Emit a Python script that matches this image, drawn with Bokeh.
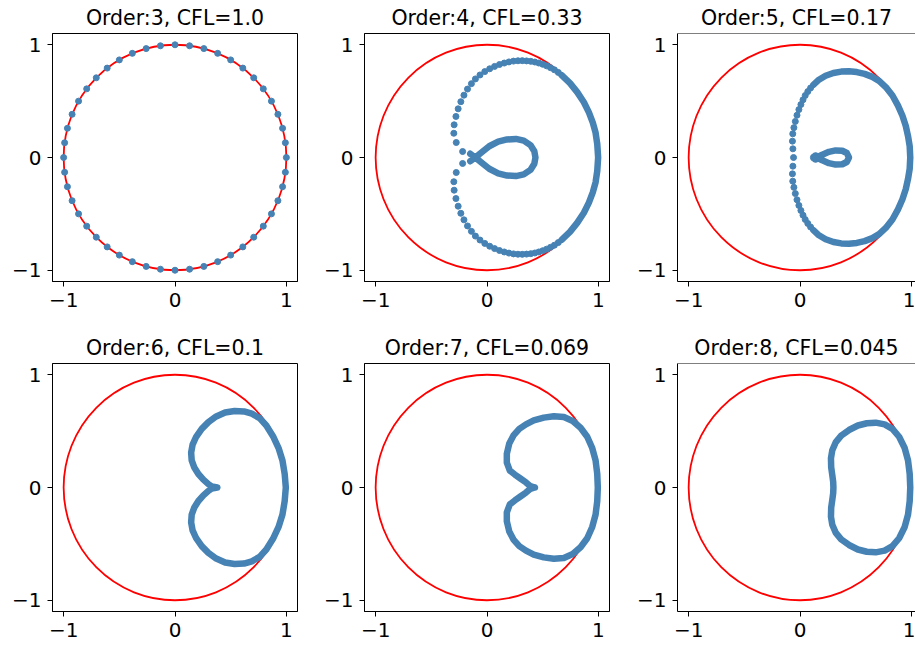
from bokeh.plotting import figure
from bokeh.layouts import column, row
from bokeh.models import Range1d, FixedTicker, Span
from bokeh.embed import file_html
from bokeh.resources import INLINE

# ---- panel titles -------------------------------------------------------
titles = [
    "Order:3, CFL=1.0", "Order:4, CFL=0.33", "Order:5, CFL=0.17",
    "Order:6, CFL=0.1", "Order:7, CFL=0.069", "Order:8, CFL=0.045",
]
tick_values = [-1, 0, 1]
tick_labels = ["\u22121", "0", "1"]

# ---- amplification factors (real, imaginary) ---------------------------
order3_x = [1.000, 0.991, 0.966, 0.924, 0.866, 0.793, 0.707, 0.609, 0.500, 0.383, 0.259, 0.131,
            0.000, -0.131, -0.259, -0.383, -0.500, -0.609, -0.707, -0.793, -0.866, -0.924, -0.966, -0.991,
            -1.000, -0.991, -0.966, -0.924, -0.866, -0.793, -0.707, -0.609, -0.500, -0.383, -0.259, -0.131,
            0.000, 0.131, 0.259, 0.383, 0.500, 0.609, 0.707, 0.793, 0.866, 0.924, 0.966, 0.991]
order3_y = [0.000, 0.131, 0.259, 0.383, 0.500, 0.609, 0.707, 0.793, 0.866, 0.924, 0.966, 0.991,
            1.000, 0.991, 0.966, 0.924, 0.866, 0.793, 0.707, 0.609, 0.500, 0.383, 0.259, 0.131,
            0.000, -0.131, -0.259, -0.383, -0.500, -0.609, -0.707, -0.793, -0.866, -0.924, -0.966, -0.991,
            -1.000, -0.991, -0.966, -0.924, -0.866, -0.793, -0.707, -0.609, -0.500, -0.383, -0.259, -0.131]

order4_dots_x = [0.640, 0.605, 0.570, 0.535, 0.500, 0.465, 0.430, 0.393, 0.355, 0.317,
                 0.278, 0.238, 0.197, 0.155, 0.112, 0.068, 0.024, -0.020, -0.063, -0.104,
                 -0.140, -0.175, -0.207, -0.235, -0.259, -0.279, -0.295, -0.298, -0.276, -0.219,
                 0.640, 0.605, 0.570, 0.535, 0.500, 0.465, 0.430, 0.393, 0.355, 0.317,
                 0.278, 0.238, 0.197, 0.155, 0.112, 0.068, 0.024, -0.020, -0.063, -0.104,
                 -0.140, -0.175, -0.207, -0.235, -0.259, -0.279, -0.295, -0.298, -0.276, -0.219]
order4_dots_y = [0.755, 0.778, 0.797, 0.813, 0.827, 0.838, 0.847, 0.853, 0.857, 0.859,
                 0.858, 0.855, 0.848, 0.838, 0.825, 0.808, 0.787, 0.762, 0.732, 0.697,
                 0.655, 0.607, 0.553, 0.495, 0.432, 0.364, 0.290, 0.215, 0.133, 0.053,
                 -0.755, -0.778, -0.797, -0.813, -0.827, -0.838, -0.847, -0.853, -0.857, -0.859,
                 -0.858, -0.855, -0.848, -0.838, -0.825, -0.808, -0.787, -0.762, -0.732, -0.697,
                 -0.655, -0.607, -0.553, -0.495, -0.432, -0.364, -0.290, -0.215, -0.133, -0.053]
order4_arc_x = [0.670, 0.745, 0.810, 0.870, 0.915, 0.950, 0.975, 0.990, 0.998,
                0.990, 0.975, 0.950, 0.915, 0.870, 0.810, 0.745, 0.670]
order4_arc_y = [0.730, 0.660, 0.580, 0.490, 0.400, 0.310, 0.220, 0.120, 0.000,
                -0.120, -0.220, -0.310, -0.400, -0.490, -0.580, -0.660, -0.730]
order4_loop_x = [-0.150, -0.105, -0.050, 0.020, 0.100, 0.180, 0.260, 0.330, 0.390, 0.425, 0.435,
                 0.425, 0.390, 0.330, 0.260, 0.180, 0.100, 0.020, -0.050, -0.105, -0.150]
order4_loop_y = [0.033, 0.000, -0.045, -0.100, -0.140, -0.160, -0.165, -0.150, -0.110, -0.055, 0.000,
                 0.055, 0.110, 0.150, 0.165, 0.160, 0.140, 0.100, 0.045, 0.000, -0.033]

order5_dots_x = [0.095, 0.070, 0.047, 0.027, 0.008, -0.010, -0.027, -0.042, -0.055, -0.065, -0.068, -0.064,
                 -0.058,
                 -0.064, -0.068, -0.065, -0.055, -0.042, -0.027, -0.010, 0.008, 0.027, 0.047, 0.070, 0.095]
order5_dots_y = [0.617, 0.585, 0.550, 0.512, 0.470, 0.425, 0.375, 0.320, 0.265, 0.210, 0.145, 0.077,
                 0.000,
                 -0.077, -0.145, -0.210, -0.265, -0.320, -0.375, -0.425, -0.470, -0.512, -0.550, -0.585, -0.617]
order5_arc_x = [0.120, 0.170, 0.230, 0.300, 0.370, 0.440, 0.510, 0.580, 0.650, 0.710, 0.770, 0.830,
                0.880, 0.920, 0.950, 0.970, 0.985, 0.990, 0.985, 0.970, 0.950, 0.920, 0.880, 0.830,
                0.770, 0.710, 0.650, 0.580, 0.510, 0.440, 0.370, 0.300, 0.230, 0.170, 0.120]
order5_arc_y = [0.645, 0.690, 0.725, 0.750, 0.762, 0.765, 0.758, 0.742, 0.715, 0.680, 0.625, 0.550,
                0.460, 0.370, 0.280, 0.190, 0.100, 0.000, -0.100, -0.190, -0.280, -0.370, -0.460, -0.550,
                -0.625, -0.680, -0.715, -0.742, -0.758, -0.765, -0.762, -0.750, -0.725, -0.690, -0.645]
order5_loop_x = [0.150, 0.200, 0.260, 0.320, 0.380, 0.420, 0.440, 0.420, 0.380, 0.320, 0.260, 0.200, 0.150]
order5_loop_y = [0.000, 0.025, 0.050, 0.063, 0.060, 0.040, 0.000, -0.040, -0.060, -0.063, -0.050, -0.025, 0.000]
order5_knot_x = [0.125, 0.140, 0.140]
order5_knot_y = [0.000, 0.012, -0.012]

order6_x = [0.380, 0.330, 0.300, 0.255, 0.210, 0.172, 0.150, 0.145, 0.158, 0.190, 0.240, 0.300,
            0.370, 0.450, 0.535, 0.620, 0.690, 0.760, 0.820, 0.880, 0.930, 0.965, 0.985, 0.995,
            0.985, 0.965, 0.930, 0.880, 0.820, 0.760, 0.690, 0.620, 0.535, 0.450, 0.370, 0.300,
            0.240, 0.190, 0.158, 0.145, 0.150, 0.172, 0.210, 0.255, 0.300, 0.330, 0.380]
order6_y = [0.000, 0.010, 0.030, 0.070, 0.120, 0.180, 0.240, 0.310, 0.380, 0.450, 0.520, 0.580,
            0.630, 0.665, 0.678, 0.675, 0.655, 0.615, 0.550, 0.455, 0.350, 0.240, 0.120, 0.000,
            -0.120, -0.240, -0.350, -0.455, -0.550, -0.615, -0.655, -0.675, -0.678, -0.665, -0.630, -0.580,
            -0.520, -0.450, -0.380, -0.310, -0.240, -0.180, -0.120, -0.070, -0.030, -0.010, 0.000]

order7_x = [0.430, 0.390, 0.350, 0.300, 0.250, 0.205, 0.178, 0.178, 0.200, 0.240, 0.290, 0.350,
            0.420, 0.510, 0.600, 0.690, 0.770, 0.840, 0.900, 0.945, 0.975, 0.990, 0.995,
            0.990, 0.975, 0.945, 0.900, 0.840, 0.770, 0.690, 0.600, 0.510, 0.420, 0.350,
            0.290, 0.240, 0.200, 0.178, 0.178, 0.205, 0.250, 0.300, 0.350, 0.390, 0.430]
order7_y = [0.000, 0.012, 0.045, 0.080, 0.115, 0.150, 0.220, 0.300, 0.390, 0.465, 0.520, 0.560,
            0.595, 0.620, 0.632, 0.625, 0.590, 0.530, 0.450, 0.350, 0.240, 0.120, 0.000,
            -0.120, -0.240, -0.350, -0.450, -0.530, -0.590, -0.625, -0.632, -0.620, -0.595, -0.560,
            -0.520, -0.465, -0.390, -0.300, -0.220, -0.150, -0.115, -0.080, -0.045, -0.012, 0.000]

order8_x = [0.300, 0.298, 0.290, 0.280, 0.278, 0.290, 0.320, 0.370, 0.440, 0.520, 0.600, 0.680,
            0.760, 0.830, 0.890, 0.940, 0.970, 0.985, 0.990,
            0.985, 0.970, 0.940, 0.890, 0.830, 0.760, 0.680, 0.600, 0.520, 0.440, 0.370,
            0.320, 0.290, 0.278, 0.280, 0.290, 0.298, 0.300]
order8_y = [0.000, 0.050, 0.110, 0.180, 0.260, 0.330, 0.400, 0.460, 0.510, 0.550, 0.570, 0.575,
            0.560, 0.520, 0.450, 0.350, 0.240, 0.120, 0.000,
            -0.120, -0.240, -0.350, -0.450, -0.520, -0.560, -0.575, -0.570, -0.550, -0.510, -0.460,
            -0.400, -0.330, -0.260, -0.180, -0.110, -0.050, 0.000]

# ---- styling --------------------------------------------------------------
FONT = "DejaVu Sans"
BLUE = "#4682b4"
DOT = 6
BAND = 6.5

col_widths = [313, 313, 289]
col_left = [52, 51, 51]
col_right = [16, 17, 0]
row_heights = [330, 318]
row_top = [33, 33]
row_bottom = [49, 37]
FRAME_W = 245


def make_panel(title, r, c):
    frame_w = col_widths[c] - col_left[c] - col_right[c]
    x_end = -1.1 + 2.2 * frame_w / FRAME_W
    p = figure(width=col_widths[c], height=row_heights[r],
               x_range=Range1d(-1.1, x_end), y_range=Range1d(-1.1, 1.1),
               output_backend="svg", toolbar_location=None, tools="",
               min_border_left=col_left[c], min_border_right=col_right[c],
               min_border_top=row_top[r], min_border_bottom=row_bottom[r])
    p.title.text = title
    p.title.align = "center"
    p.title.text_font = FONT
    p.title.text_font_size = "20.5px"
    p.title.text_font_style = "normal"
    p.title.text_color = "black"
    p.title.standoff = 7
    if c == 2:
        p.title.offset = 3.5
    p.grid.visible = False
    p.background_fill_color = "white"
    p.border_fill_color = "white"
    if c == 2:
        p.outline_line_color = None
        p.add_layout(Span(location=1.1, dimension="width", line_color="black", line_width=1))
    else:
        p.outline_line_color = "black"
        p.outline_line_width = 1
        p.outline_line_alpha = 1.0
    for ax in (p.xaxis[0], p.yaxis[0]):
        ax.ticker = FixedTicker(ticks=tick_values)
        ax.major_label_overrides = {v: t for v, t in zip(tick_values, tick_labels)}
        ax.major_label_text_font = FONT
        ax.major_label_text_font_size = "20px"
        ax.major_label_text_color = "black"
        ax.major_tick_in = 0
        ax.major_tick_out = 5
        ax.major_tick_line_color = "black"
        ax.minor_tick_line_color = None
        ax.axis_line_color = "black"
        ax.major_label_standoff = 6
    # unit circle
    p.ellipse(x=0, y=0, width=2, height=2, fill_color=None, line_color="red", line_width=1.8)
    return p


panels = [make_panel(titles[i], i // 3, i % 3) for i in range(6)]

p3, p4, p5, p6, p7, p8 = panels

p3.scatter(order3_x, order3_y, size=DOT, color=BLUE)

line_kw = dict(line_color=BLUE, line_width=BAND, line_join="round", line_cap="round")

p4.line(order4_arc_x, order4_arc_y, **line_kw)
p4.line(order4_loop_x, order4_loop_y, **line_kw)
p4.scatter(order4_dots_x, order4_dots_y, size=DOT, color=BLUE)

p5.line(order5_arc_x, order5_arc_y, **line_kw)
p5.line(order5_loop_x, order5_loop_y, **line_kw)
p5.scatter(order5_knot_x, order5_knot_y, size=DOT + 1, color=BLUE)
p5.scatter(order5_dots_x, order5_dots_y, size=DOT, color=BLUE)

p6.line(order6_x, order6_y, **line_kw)
p7.line(order7_x, order7_y, **line_kw)
p8.line(order8_x, order8_y, **line_kw)

layout = column(row(p3, p4, p5, spacing=0), row(p6, p7, p8, spacing=0), spacing=0)

open("out.html", "w").write(file_html(layout, INLINE))
